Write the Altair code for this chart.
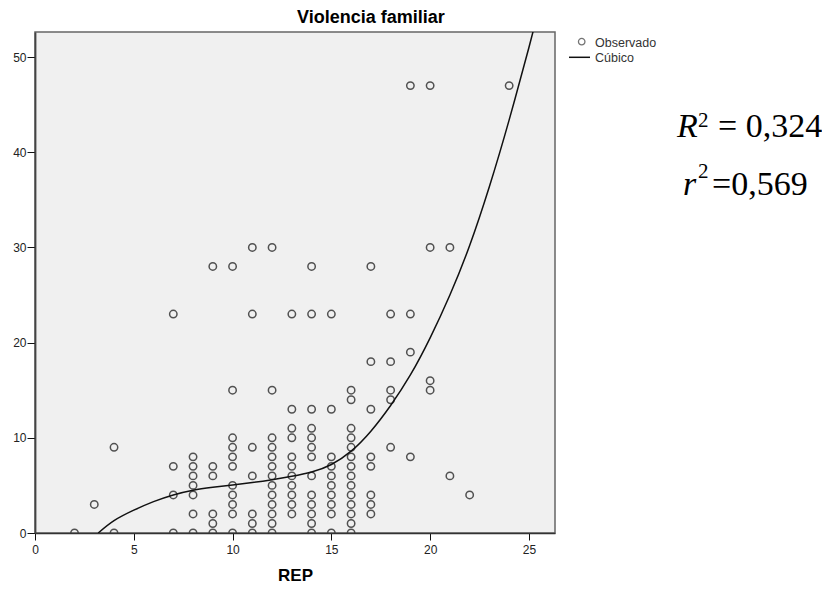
import altair as alt
import pandas as pd

# Observed points: REP value and the Violencia familiar values seen in that column
rep_columns = [2, 3, 4, 7, 8, 9, 10, 11, 12, 13, 14, 15, 16, 17, 18, 19, 20, 21, 22, 24]
vf_columns = [
    [0],
    [3],
    [9, 0],
    [23, 7, 4, 0],
    [8, 7, 6, 5, 4, 2, 0],
    [28, 7, 6, 2, 1, 0],
    [28, 15, 10, 9, 8, 7, 5, 4, 3, 2, 0],
    [30, 23, 9, 6, 2, 1, 0],
    [30, 15, 10, 9, 8, 7, 6, 5, 4, 3, 2, 1, 0],
    [23, 13, 11, 10, 8, 7, 6, 5, 4, 3, 2],
    [28, 23, 13, 11, 10, 9, 8, 6, 4, 3, 2, 1, 0],
    [23, 13, 8, 7, 6, 5, 4, 3, 2, 0],
    [15, 14, 11, 10, 9, 8, 7, 6, 5, 4, 3, 2, 1, 0],
    [28, 18, 13, 8, 7, 4, 3, 2],
    [23, 18, 15, 14, 9],
    [47, 23, 19, 8],
    [47, 30, 16, 15],
    [30, 6],
    [4],
    [47],
]

# Cubic fit curve
curve_rep = [3.2, 4, 5, 6, 7, 8, 9, 10, 11, 12, 13, 14, 15, 16, 17, 18, 19, 20, 21, 22, 23, 24, 25, 25.5]
curve_vf = [0, 1.3, 2.4, 3.3, 4.0, 4.5, 4.8, 5.05, 5.3, 5.6, 5.95, 6.4, 7.2, 8.6, 10.7, 13.4, 16.6, 20.5, 25.0, 30.2, 36.4, 43.4, 51.0, 55.0]

x_ticks = [0, 5, 10, 15, 20, 25]
y_ticks = [0, 10, 20, 30, 40, 50]
legend_labels = ["Observado", "Cúbico"]

obs_rep, obs_vf = [], []
for r, vals in zip(rep_columns, vf_columns):
    for v in vals:
        obs_rep.append(r)
        obs_vf.append(v)

obs = pd.DataFrame({"REP": obs_rep, "VF": obs_vf})
curve = pd.DataFrame({"REP": curve_rep, "VF": curve_vf})
one = pd.DataFrame({"k": [0]})

xs = alt.Scale(domain=[0, 26.32], nice=False, zero=False)
ys = alt.Scale(domain=[0, 52.63], nice=False, zero=False)

xaxis = alt.Axis(values=x_ticks, tickSize=7, tickColor="#111", tickWidth=1,
                 labelFontSize=12, labelFont="Liberation Sans", labelColor="#222",
                 labelPadding=4, labelFlush=False, grid=False,
                 domainColor="#333", domainWidth=1.6,
                 title="REP", titleFont="Liberation Sans", titleFontSize=17,
                 titleFontWeight="bold", titleColor="#000",
                 titleBaseline="alphabetic", titleY=47, titleX=260)
yaxis = alt.Axis(values=y_ticks, tickSize=8, tickColor="#111", tickWidth=1,
                 labelFontSize=12, labelFont="Liberation Sans", labelColor="#222",
                 labelPadding=1, labelFlush=False, grid=False,
                 domainColor="#444", domainWidth=1.8, title=None)

points = alt.Chart(obs).mark_point(shape="circle", filled=False, size=55,
                                   strokeWidth=1.5, color="#404040", opacity=0.9,
                                   clip=True).encode(
    x=alt.X("REP:Q", scale=xs, axis=xaxis),
    y=alt.Y("VF:Q", scale=ys, axis=yaxis),
)

line = alt.Chart(curve).mark_line(color="#111", strokeWidth=1.5, clip=True,
                                  interpolate="natural").encode(
    x=alt.X("REP:Q", scale=xs),
    y=alt.Y("VF:Q", scale=ys),
)

def txt(text, x, y, size, font="Liberation Sans", weight="normal", style="normal",
        align="left", baseline="alphabetic", color="#000"):
    return alt.Chart(one).mark_text(text=text, font=font, fontSize=size,
                                    fontWeight=weight, fontStyle=style,
                                    align=align, baseline=baseline, color=color).encode(
        x=alt.value(x), y=alt.value(y))

title = txt("Violencia familiar", 262, -9, 18, weight="bold")

leg_pt = alt.Chart(one).mark_point(shape="circle", filled=False, size=42,
                                   strokeWidth=1.3, color="#3a3a3a").encode(
    x=alt.value(546.7), y=alt.value(9.7))
leg_line = alt.Chart(one).mark_rule(color="#111", strokeWidth=1.5).encode(
    x=alt.value(534), x2=alt.value(555), y=alt.value(25.3))
leg_t1 = txt(legend_labels[0], 560, 10.7, 12.5, baseline="middle", color="#333")
leg_t2 = txt(legend_labels[1], 560, 26.3, 12.5, baseline="middle", color="#333")

serif = "Liberation Serif"
r1a = txt("R", 642, 104.7, 34, font=serif, style="italic")
r1b = txt("2", 663, 94.7, 21, font=serif)
r1c = txt("= 0,324", 683, 104.7, 34, font=serif)
r2a = txt("r", 648, 163, 34, font=serif, style="italic")
r2b = txt("2", 663, 146, 21, font=serif)
r2c = txt("=0,569", 677, 163, 34, font=serif)

chart = alt.layer(points, line, title, leg_pt, leg_line, leg_t1, leg_t2,
                  r1a, r1b, r1c, r2a, r2b, r2c).properties(
    width=520, height=501,
    autosize=alt.AutoSizeParams(type="none"),
    padding={"left": 27, "top": 24, "right": 267, "bottom": 51},
    background="white",
).configure_view(fill="#f0f0f0", stroke="#666", strokeWidth=1.5)

chart.save("out.html", embed_options={"renderer": "svg", "actions": False})
